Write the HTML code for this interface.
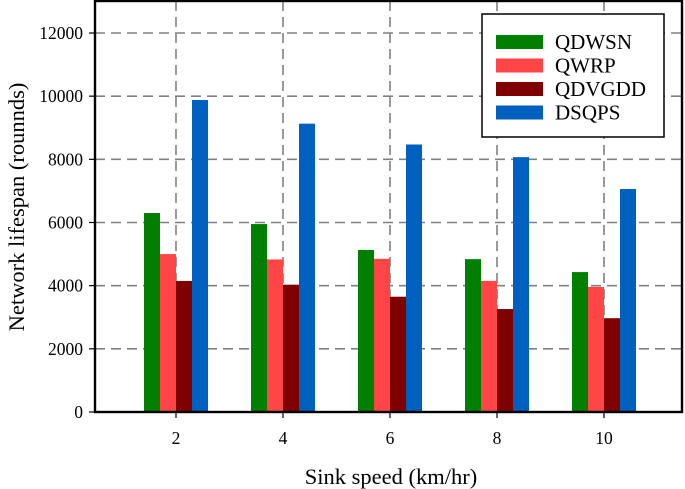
<!DOCTYPE html>
<html><head><meta charset="utf-8"><style>
body{margin:0;background:#fff;}
svg{display:block;font-family:"Liberation Serif",serif;}
</style></head><body>
<svg id="chart" width="685" height="489" viewBox="0 0 685 489" xmlns="http://www.w3.org/2000/svg">
<g id="grid"></g>
<g id="bars"></g>
<rect x="95" y="1" width="587" height="411" fill="none" stroke="#000" stroke-width="2.4"/>
<g id="ticks"></g>
<text transform="translate(24,207) rotate(-90)" text-anchor="middle" font-size="22.5">Network lifespan (rounnds)</text>
<text x="391" y="484" text-anchor="middle" font-size="22.5">Sink speed (km/hr)</text>
<g>
<rect x="482" y="14" width="182" height="123" fill="#fff" stroke="#000" stroke-width="1.5"/>
<g id="legend-entries"></g>
</g>
</svg>
<script>
const categories = [2, 4, 6, 8, 10];
const seriesNames = ["QDWSN", "QWRP", "QDVGDD", "DSQPS"];
const qdwsn = [6300, 5950, 5130, 4840, 4430];
const qwrp = [5000, 4830, 4850, 4150, 3960];
const qdvgdd = [4150, 4030, 3650, 3260, 2970];
const dsqps = [9880, 9130, 8470, 8070, 7060];
const yTicks = [0, 2000, 4000, 6000, 8000, 10000, 12000];
const colors = ["#007f00", "#ff4545", "#7f0000", "#0060c0"];
const series = [qdwsn, qwrp, qdvgdd, dsqps];

const NS = "http://www.w3.org/2000/svg";
const y = v => 412 - v * (379 / 12000);
const x = c => 176 + (c - 2) * (107 / 2);
function mk(tag, attrs, parent) {
  const e = document.createElementNS(NS, tag);
  for (const k in attrs) e.setAttribute(k, attrs[k]);
  parent.appendChild(e);
  return e;
}
const grid = document.getElementById("grid");
const ticks = document.getElementById("ticks");
const bars = document.getElementById("bars");
yTicks.forEach(t => {
  if (t > 0) {
    const l = mk("line", {x1: 95, x2: 682, y1: y(t), y2: y(t), stroke: "#808080", "stroke-width": 1.6, "stroke-dasharray": "10,6"}, grid);
    
    
  }
  const tk = mk("line", {x1: 89, x2: 95, y1: y(t), y2: y(t), stroke: "#000", "stroke-width": 1.2}, ticks);
  
  
  const tx = mk("text", {x: 83, y: y(t) + 6, "text-anchor": "end", "font-size": 17.5}, ticks);
  tx.textContent = t;
  
  
});
categories.forEach((c, i) => {
  const l = mk("line", {x1: x(c), x2: x(c), y1: 1, y2: 412, stroke: "#808080", "stroke-width": 1.6, "stroke-dasharray": "10,6"}, grid);
  
  
  const tk = mk("line", {x1: x(c), x2: x(c), y1: 412, y2: 418, stroke: "#000", "stroke-width": 1.2}, ticks);
  
  
  const tx = mk("text", {x: x(c), y: 444, "text-anchor": "middle", "font-size": 17.5}, ticks);
  tx.textContent = c;
  
  
  series.forEach((s, j) => {
    const b = mk("rect", {x: x(c) - 32 + j * 16, y: y(s[i]), width: 16, height: 412 - y(s[i]), fill: colors[j]}, bars);
    
    
  });
});
const leg = document.getElementById("legend-entries");
seriesNames.forEach((n, j) => {
  const cy = 42 + j * 23.5;
  const r = mk("rect", {x: 496, y: cy - 7, width: 47, height: 14, fill: colors[j]}, leg);
  
  
  const t = mk("text", {x: 555, y: cy + 7, "font-size": 21}, leg);
  t.textContent = n;
  
  
});
</script>
</body></html>
